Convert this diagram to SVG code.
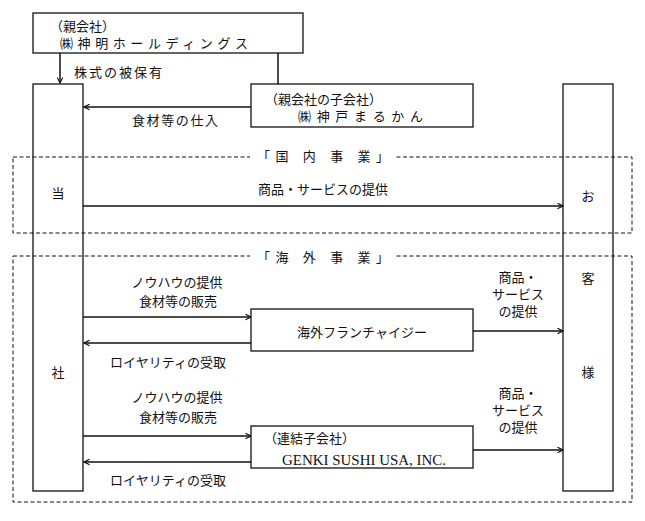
<svg xmlns="http://www.w3.org/2000/svg" width="645" height="521" viewBox="0 0 645 521">
<style>
text{font-family:"Liberation Serif","Noto Sans CJK JP",serif;font-size:13px;fill:#111}
.box{fill:#fff;stroke:#111;stroke-width:1.3}
.col{fill:none;stroke:#111;stroke-width:1.3}
.dash{fill:none;stroke:#111;stroke-width:1;stroke-dasharray:4 2.5}
.ln{fill:none;stroke:#111;stroke-width:1.5}
.arr{fill:none;stroke:#111;stroke-width:1.5;marker-end:url(#ah)}
.c{text-anchor:middle}
.en{font-size:15px}
</style>
<defs>
<marker id="ah" viewBox="0 0 10 10" refX="9" refY="5" markerWidth="7" markerHeight="7" markerUnits="userSpaceOnUse" orient="auto">
<path d="M1,1 L9,5 L1,9" fill="none" stroke="#111" stroke-width="1.6"/>
</marker>
</defs>
<rect width="645" height="521" fill="#fff"/>
<g id="domestic-frame">
<rect class="dash" x="13" y="157" width="619" height="76"/>
<rect x="250" y="148" width="146" height="16" fill="#fff"/>
<text x="257" y="161" textLength="132" lengthAdjust="spacing">「国 内 事 業」</text>
</g>
<g id="overseas-frame">
<rect class="dash" x="13" y="256" width="619" height="246"/>
<rect x="250" y="248" width="146" height="16" fill="#fff"/>
<text x="257" y="262" textLength="132" lengthAdjust="spacing">「海 外 事 業」</text>
</g>
<g id="connectors">
<line class="arr" x1="60" y1="53" x2="60" y2="83"/>
<line class="ln" x1="278" y1="53" x2="278" y2="84"/>
<line class="arr" x1="251" y1="107" x2="84" y2="107"/>
<line class="arr" x1="83" y1="206" x2="563" y2="206"/>
<line class="arr" x1="83" y1="317" x2="251" y2="317"/>
<line class="arr" x1="251" y1="343" x2="84" y2="343"/>
<line class="arr" x1="473" y1="331" x2="563" y2="331"/>
<line class="arr" x1="83" y1="436" x2="251" y2="436"/>
<line class="arr" x1="251" y1="462" x2="84" y2="462"/>
<line class="arr" x1="473" y1="450" x2="563" y2="450"/>
<text x="74" y="77" textLength="88" lengthAdjust="spacing">株式の被保有</text>
<text x="132" y="125" textLength="86" lengthAdjust="spacing">食材等の仕入</text>
<text class="c" x="323" y="194">商品・サービスの提供</text>
<text class="c" x="177" y="287">ノウハウの提供</text>
<text class="c" x="178" y="306">食材等の販売</text>
<text class="c" x="168" y="367">ロイヤリティの受取</text>
<text class="c" x="518" y="282">商品・</text>
<text class="c" x="518" y="299">サービス</text>
<text class="c" x="518" y="316">の提供</text>
<text class="c" x="177" y="402">ノウハウの提供</text>
<text class="c" x="178" y="422">食材等の販売</text>
<text class="c" x="168" y="485">ロイヤリティの受取</text>
<text class="c" x="518" y="398">商品・</text>
<text class="c" x="518" y="415">サービス</text>
<text class="c" x="518" y="432">の提供</text>
</g>
<g id="shinmei">
<rect class="box" x="33" y="13" width="270" height="40"/>
<text x="50" y="31">（親会社）</text>
<text x="60" y="48" textLength="188" lengthAdjust="spacing">㈱神明ホールディングス</text>
</g>
<g id="kobe">
<rect class="box" x="251" y="84" width="222" height="43"/>
<text x="265" y="104">（親会社の子会社）</text>
<text x="298" y="121" textLength="125" lengthAdjust="spacing">㈱神戸まるかん</text>
</g>
<g id="company">
<rect class="col" x="33" y="84" width="50" height="407"/>
<text class="c" x="58" y="198">当</text>
<text class="c" x="58" y="377">社</text>
</g>
<g id="customer">
<rect class="col" x="563" y="84" width="50" height="407"/>
<text class="c" x="588" y="201">お</text>
<text class="c" x="588" y="283">客</text>
<text class="c" x="588" y="377">様</text>
</g>
<g id="franchisee">
<rect class="box" x="251" y="309" width="222" height="42"/>
<text class="c" x="362" y="337">海外フランチャイジー</text>
</g>
<g id="genki">
<rect class="box" x="251" y="426" width="222" height="42"/>
<text x="264" y="443">（連結子会社）</text>
<text class="en" x="282" y="465" textLength="164" lengthAdjust="spacingAndGlyphs">GENKI SUSHI USA, INC.</text>
</g>
</svg>
